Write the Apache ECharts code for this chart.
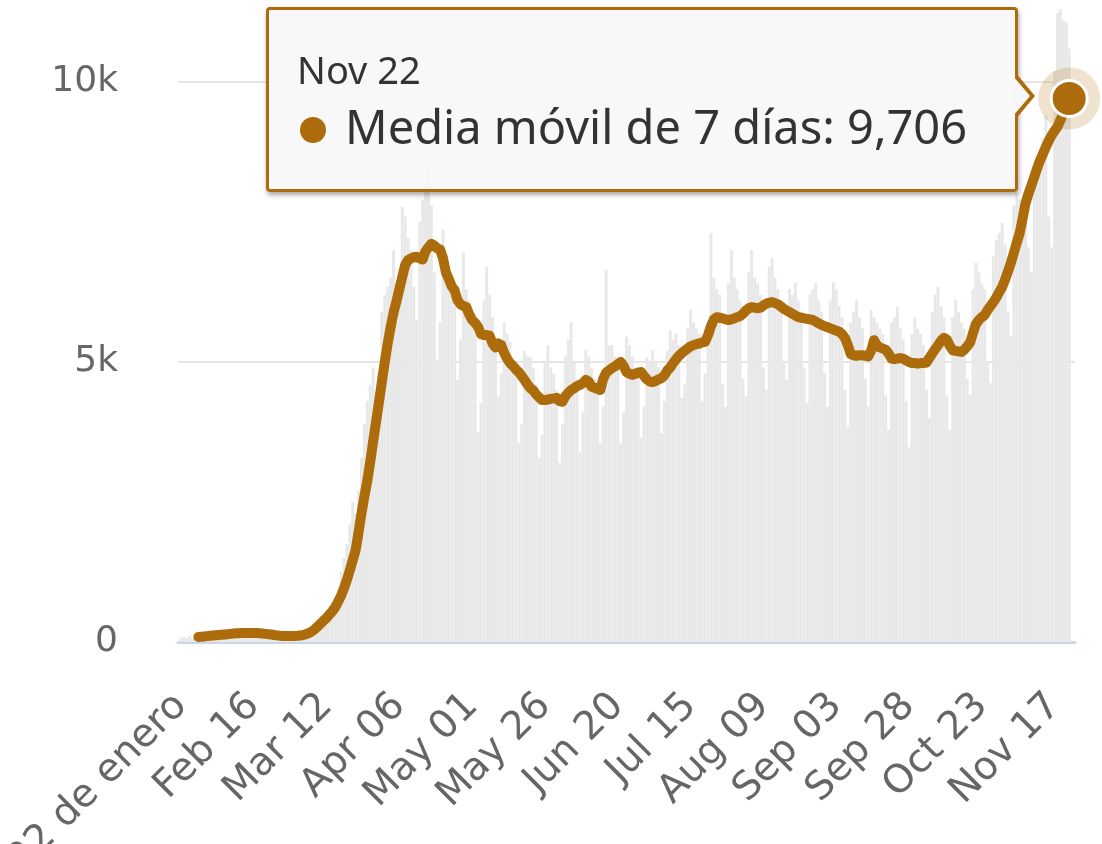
<!DOCTYPE html>
<html>
<head>
<meta charset="utf-8">
<script src="https://cdn.jsdelivr.net/npm/echarts@6/dist/echarts.min.js"></script>
<style>
html, body { margin: 0; padding: 0; background: #fff; }
#chart { width: 1102px; height: 844px; }
</style>
</head>
<body>
<div id="chart"></div>
<script>
// casos diarios, 22 de enero -> 22 de noviembre (306 dias)
var dailyCases = [
    80, 95, 70, 110, 60, 90, 125, 120, 130, 100,
    135, 80, 110, 150, 160, 170, 140, 175, 110, 140,
    190, 185, 180, 160, 170, 120, 140, 165, 150, 140,
    130, 120, 80, 95, 110, 115, 120, 110, 105, 70,
    95, 140, 170, 190, 240, 280, 210, 330, 430, 480,
    560, 650, 720, 640, 900, 1250, 1500, 1750, 2100, 2500,
    2300, 2700, 3300, 3900, 4300, 4600, 4900, 4300, 4800, 5900,
    6200, 6340, 6500, 7000, 5700, 6400, 7770, 7600, 7210, 7000,
    6340, 5750, 7500, 7900, 8200, 8480, 7800, 6600, 5040, 5710,
    7360, 6900, 6500, 6200, 6000, 4680, 5400, 6950, 6300, 6100,
    5800, 5500, 3750, 4270, 6100, 6700, 6200, 5800, 5300, 4380,
    4800, 5710, 5500, 5360, 5000, 4800, 3550, 3900, 5200, 5100,
    5090, 4900, 4600, 3290, 3700, 5000, 5300, 4900, 4800, 4500,
    3200, 3900, 5100, 5400, 5710, 5000, 4700, 3380, 4100, 5210,
    5100, 4900, 4700, 4600, 3550, 4200, 6640, 5300, 5300, 5100,
    5000, 3550, 4100, 5450, 5300, 5100, 4900, 4900, 3640, 4200,
    5090, 5000, 5210, 5000, 4900, 3730, 4300, 5200, 5570, 5400,
    5500, 5300, 4360, 4600, 5600, 5930, 5700, 5600, 5500, 4300,
    4800, 5700, 7300, 6500, 6300, 6200, 4600, 4200, 6400, 7000,
    6500, 6300, 6100, 4700, 4380, 6600, 7000, 6500, 6400, 6200,
    4900, 4500, 6700, 6860, 6500, 6300, 6100, 5000, 4680, 6300,
    6200, 6410, 6100, 5900, 4900, 4270, 6200, 6300, 6410, 6100,
    5900, 4800, 4200, 6100, 6430, 6300, 6000, 5800, 4500, 3840,
    5700, 5900, 6110, 5800, 5600, 4700, 4200, 5930, 5800, 5700,
    5600, 5500, 4400, 3790, 5700, 5800, 5980, 5600, 5400, 4300,
    3480, 5500, 5800, 5600, 5500, 5300, 4500, 4000, 5900, 6200,
    6340, 6000, 5800, 4400, 3790, 5800, 6110, 5900, 5700, 5600,
    4700, 4410, 6300, 6770, 6600, 6400, 6300, 5000, 4620, 6900,
    7180, 7300, 7480, 7100, 5900, 5450, 7800, 8020, 7900, 7700,
    7600, 7050, 6600, 8300, 8600, 8500, 9000, 9400, 7600, 7050,
    10200, 11230, 11300, 11100, 11070, 10600
];

// media movil de 7 dias (sin valor los primeros 6 dias)
var movingAvg = [
    null, null, null, null, null, null, 90, 95, 100, 105,
    110, 115, 120, 125, 130, 135, 140, 145, 150, 155,
    158, 160, 162, 160, 160, 162, 160, 155, 150, 145,
    140, 135, 125, 118, 112, 108, 106, 105, 106, 107,
    110, 115, 125, 140, 160, 190, 230, 280, 330, 380,
    430, 490, 550, 620, 720, 830, 960, 1110, 1280, 1460,
    1640, 1960, 2300, 2600, 2880, 3220, 3580, 3930, 4280, 4650,
    5000, 5330, 5620, 5880, 6080, 6300, 6520, 6730, 6820, 6850,
    6870, 6880, 6850, 6830, 6980, 7050, 7110, 7080, 7030, 7010,
    6850, 6600, 6480, 6350, 6280, 6100, 6030, 6000, 5980, 5850,
    5750, 5700, 5630, 5500, 5480, 5480, 5470, 5330, 5260, 5330,
    5300, 5160, 5060, 4980, 4930, 4870, 4820, 4750, 4680, 4600,
    4530, 4490, 4420, 4370, 4320, 4320, 4330, 4340, 4350, 4360,
    4300, 4290, 4390, 4450, 4500, 4530, 4570, 4590, 4620, 4680,
    4650, 4560, 4540, 4520, 4500, 4700, 4810, 4850, 4890, 4920,
    4960, 5000, 4930, 4820, 4790, 4770, 4790, 4810, 4820, 4750,
    4690, 4650, 4640, 4660, 4690, 4710, 4760, 4850, 4900, 4980,
    5050, 5110, 5160, 5200, 5240, 5280, 5300, 5320, 5330, 5350,
    5360, 5480, 5640, 5760, 5800, 5790, 5780, 5760, 5750, 5760,
    5780, 5800, 5820, 5860, 5920, 5960, 5980, 5970, 5960, 5970,
    6010, 6040, 6060, 6070, 6050, 6030, 5990, 5950, 5920, 5890,
    5860, 5830, 5800, 5790, 5780, 5770, 5760, 5750, 5720, 5690,
    5660, 5640, 5620, 5600, 5580, 5560, 5540, 5500, 5430, 5300,
    5140, 5120, 5110, 5120, 5120, 5110, 5100, 5200, 5390, 5300,
    5260, 5240, 5220, 5150, 5060, 5050, 5060, 5070, 5060, 5030,
    5000, 4980, 4980, 4970, 4980, 4980, 4990, 5070, 5150, 5230,
    5300, 5380, 5430, 5400, 5290, 5210, 5200, 5190, 5180, 5220,
    5280, 5350, 5520, 5680, 5750, 5800, 5840, 5930, 6000, 6070,
    6150, 6250, 6340, 6470, 6620, 6770, 6950, 7130, 7300, 7560,
    7830, 8000, 8150, 8300, 8460, 8600, 8720, 8840, 8950, 9050,
    9130, 9200, 9320, 9450, 9580, 9706
];

var tickDays = [0, 25, 50, 75, 100, 125, 150, 175, 200, 225, 250, 275, 300];
var tickLabels = ['22 de enero', 'Feb 16', 'Mar 12', 'Apr 06', 'May 01', 'May 26', 'Jun 20',
    'Jul 15', 'Aug 09', 'Sep 03', 'Sep 28', 'Oct 23', 'Nov 17'];
var yTicks = [0, 5000, 10000];
var seriesName = 'Media móvil de 7 días';
var lastDayLabel = 'Nov 22';

var brown = '#ad6c0c';
var lastIdx = movingAvg.length - 1;

var barData = dailyCases.map(function (v, i) {
    return [i, v];
});
var lineData = [];
movingAvg.forEach(function (v, i) {
    if (v === null) return;
    if (i === lastIdx) {
        lineData.push({
            value: [i, v],
            symbol: 'circle',
            symbolSize: 36,
            itemStyle: { color: brown, borderColor: '#fff', borderWidth: 3 }
        });
    } else {
        lineData.push([i, v]);
    }
});

function tipHtml(p) {
    var v = p.value[1].toLocaleString('en-US');
    return '<div style="position:relative;width:746px;height:179px;font-family:\'Noto Sans\',\'Open Sans\',sans-serif;color:#333;">' +
        '<div style="position:absolute;left:28px;top:40px;font-size:38px;line-height:38px;white-space:nowrap;">' + lastDayLabel + '</div>' +
        '<div style="position:absolute;left:31px;top:107px;width:26px;height:26px;border-radius:50%;background:' + brown + ';"></div>' +
        '<div style="position:absolute;left:76px;top:93px;font-size:47px;line-height:47px;white-space:nowrap;">' + seriesName + ': ' + v + '</div>' +
        '<div style="position:absolute;left:746px;top:62px;width:0;height:0;border-top:24px solid transparent;border-bottom:24px solid transparent;border-left:20px solid ' + brown + ';"></div>' +
        '<div style="position:absolute;left:744px;top:66px;width:0;height:0;border-top:20px solid transparent;border-bottom:20px solid transparent;border-left:17px solid #f7f7f7;"></div>' +
        '</div>';
}

var myChart = echarts.init(document.getElementById('chart'));
var option = {
    animation: false,
    backgroundColor: '#fff',
    grid: {
        left: 178, right: 27, top: 82, bottom: 202,
        containLabel: false,
        outerBoundsMode: 'none'
    },
    tooltip: {
        trigger: 'item',
        triggerOn: 'none',
        alwaysShowContent: true,
        transitionDuration: 0,
        padding: 0,
        borderWidth: 3,
        borderColor: brown,
        backgroundColor: 'rgba(247,247,247,0.88)',
        extraCssText: 'border-radius:4px;box-shadow:1px 3px 5px rgba(0,0,0,0.35);',
        position: function () {
            return [266, 7];
        },
        formatter: tipHtml
    },
    xAxis: {
        type: 'value',
        min: -1,
        max: 307,
        axisLine: { show: true, lineStyle: { color: '#ccd6eb', width: 3 } },
        axisTick: { show: false },
        splitLine: { show: false },
        axisLabel: {
            customValues: tickDays,
            rotate: 45,
            align: 'right',
            verticalAlign: 'middle',
            margin: 58,
            fontFamily: 'DejaVu Sans',
            fontSize: 39,
            color: '#666',
            formatter: function (val) {
                return tickLabels[tickDays.indexOf(Math.round(val))] || '';
            }
        }
    },
    yAxis: {
        type: 'value',
        min: 0,
        max: 10000,
        interval: 5000,
        axisLine: { show: false },
        axisTick: { show: false },
        splitLine: { lineStyle: { color: '#e6e6e6', width: 2 } },
        axisLabel: {
            margin: 60,
            fontFamily: 'DejaVu Sans',
            fontSize: 36,
            color: '#666',
            formatter: function (val) {
                if (yTicks.indexOf(val) < 0) return '';
                return val === 0 ? '0' : (val / 1000) + 'k';
            }
        }
    },
    series: [{
        name: 'Casos diarios',
        type: 'bar',
        data: barData,
        barWidth: 2.92,
        clip: false,
        silent: true,
        itemStyle: { color: '#e8e8e8' },
        z: 1
    }, {
        name: 'halo',
        type: 'scatter',
        data: [[lastIdx, movingAvg[lastIdx]]],
        symbolSize: 62,
        silent: true,
        itemStyle: { color: 'rgba(173,108,12,0.25)' },
        z: 2
    }, {
        name: seriesName,
        type: 'line',
        data: lineData,
        symbol: 'none',
        showSymbol: true,
        lineStyle: { color: brown, width: 10, cap: 'round', join: 'round' },
        itemStyle: { color: brown },
        z: 3
    }]
};
myChart.setOption(option);
myChart.dispatchAction({
    type: 'showTip',
    seriesIndex: 2,
    dataIndex: lineData.length - 1
});
</script>
</body>
</html>
